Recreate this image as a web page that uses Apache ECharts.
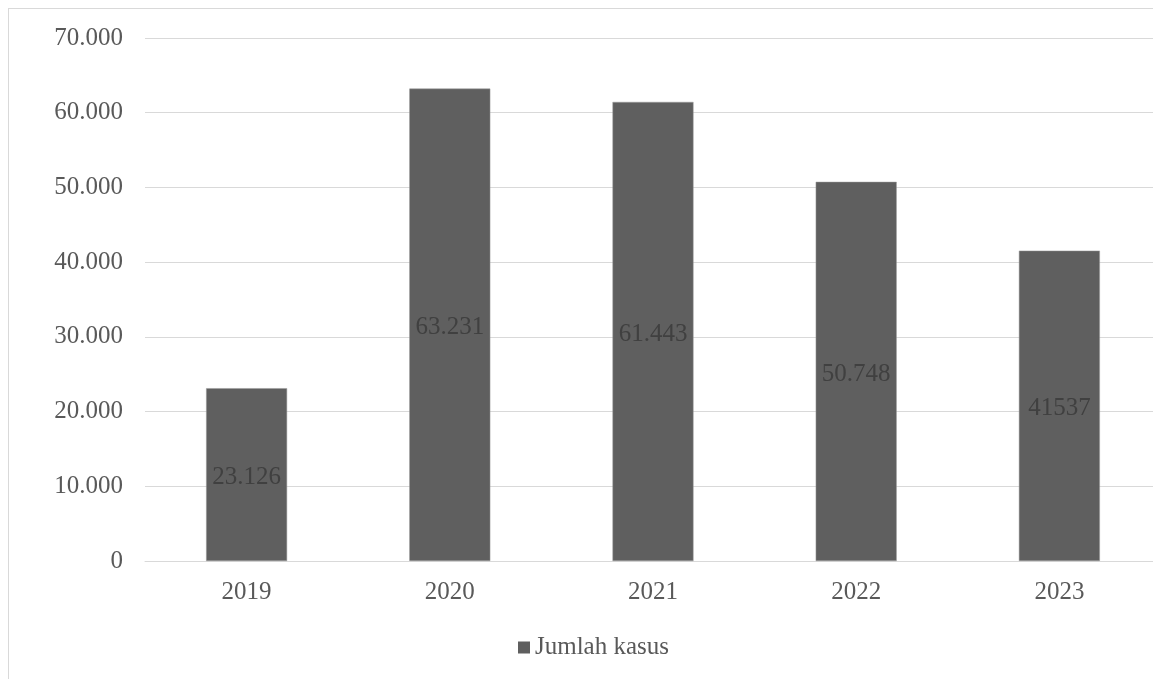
<!DOCTYPE html>
<html>
<head>
<meta charset="utf-8">
<script src="https://cdn.jsdelivr.net/npm/echarts@6/dist/echarts.min.js"></script>
<style>
  html, body { margin: 0; padding: 0; background: #fff; overflow: hidden; }
  #frame {
    position: absolute; left: 8px; top: 8px; width: 1160px; height: 690px;
    border-left: 1px solid #d9d9d9; border-top: 1px solid #d9d9d9;
  }
  /* chart is a bit wider than the window: the right edge is cropped */
  #myChart { position: absolute; left: 0; top: 0; width: 1162px; height: 679px; }
</style>
</head>
<body>
<div id="frame"></div>
<div id="myChart"></div>
<script>
// data
var years = ["2019", "2020", "2021", "2022", "2023"];
var jumlahKasus = [23126, 63231, 61443, 50748, 41537];
var labelTexts = ["23.126", "63.231", "61.443", "50.748", "41537"];
var yTicks = [0, 10000, 20000, 30000, 40000, 50000, 60000, 70000];

var font = "Liberation Serif";

function fmt(v) {
  return String(v).replace(/\B(?=(\d{3})+(?!\d))/g, ".");
}

var myChart = echarts.init(document.getElementById("myChart"));
myChart.setOption({
  animation: false,
  color: ["#5f5f5f"],
  grid: { left: 145, right: 1, top: 38, bottom: 118, containLabel: false },
  legend: {
    data: ["Jumlah kasus"],
    bottom: 14,
    left: 513,
    itemWidth: 12,
    itemHeight: 12,
    itemGap: 6,
    icon: "rect",
    itemStyle: { borderWidth: 0 },
    textStyle: { color: "#595959", fontFamily: font, fontSize: 25 }
  },
  xAxis: {
    type: "category",
    data: years,
    axisLine: { lineStyle: { color: "#d9d9d9", width: 1 } },
    axisTick: { show: false },
    axisLabel: { color: "#595959", fontFamily: font, fontSize: 25, margin: 19 }
  },
  yAxis: {
    type: "value",
    min: yTicks[0],
    max: yTicks[yTicks.length - 1],
    interval: 10000,
    axisLine: { show: false },
    axisTick: { show: false },
    splitLine: { lineStyle: { color: "#d9d9d9", width: 1 } },
    axisLabel: {
      color: "#595959", fontFamily: font, fontSize: 25, margin: 22,
      formatter: function (v) { return fmt(v); }
    }
  },
  series: [
    {
      name: "Jumlah kasus",
      type: "bar",
      data: jumlahKasus,
      barWidth: 81,
      itemStyle: { color: "#5f5f5f", borderColor: "#9a9a9a", borderWidth: 0.5 },
      label: {
        show: true,
        position: "inside",
        offset: [0, 3],
        color: "#404040",
        fontFamily: font,
        fontSize: 25,
        formatter: function (p) { return labelTexts[p.dataIndex]; }
      }
    }
  ]
});
</script>
</body>
</html>
